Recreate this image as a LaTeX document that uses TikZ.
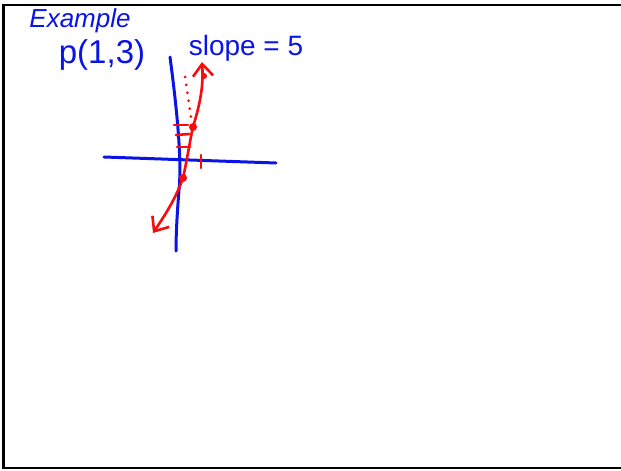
\documentclass[tikz,border=0pt]{standalone}
\usepackage{fontspec}
\setmainfont{Liberation Sans}
\usetikzlibrary{arrows.meta}
\definecolor{pen}{RGB}{10,20,230}
\definecolor{redpen}{RGB}{250,10,10}
\tikzset{
  bluepen/.style={draw=pen, line width=3pt, line cap=round, line join=round},
  redline/.style={draw=redpen, line width=2.6pt, line cap=round, line join=round},
  hand/.style={text=pen, inner sep=0pt, anchor=center},
  openhead/.style={-{Straight Barb[length=12pt,width=26pt,angle'=80]}},
  dotmark/.style={circle, fill=redpen, inner sep=0pt, minimum size=8pt},
}
\begin{document}
\begin{tikzpicture}[x=1pt,y=-1pt]
\useasboundingbox (0,0) rectangle (621,471);
\fill[white] (0,0) rectangle (621,471);
% frame
\draw[black, line width=2.6pt] (640,5) -- (3.6,5) -- (3.6,468) -- (640,468);
% texts
\node[hand, font=\itshape\fontsize{26}{26}\selectfont] (ex) at (80,21) {Example};
\node[hand, font=\fontsize{33}{33}\selectfont] (pt) at (102,55) {p(1,3)};
\node[hand, font=\fontsize{28}{28}\selectfont] (sl) at (246,48) {slope = 5};
% axes
\coordinate (ytop) at (170,57);
\coordinate (ybot) at (176,251);
\coordinate (xl) at (104,157);
\coordinate (xr) at (276,163);
\draw[bluepen] (ytop) .. controls (177,110) and (182,160) .. (179,190) .. controls (177,215) and (176,235) .. (ybot);
\draw[bluepen] (xl) -- (xr);
% tick on x axis
\coordinate (tx1) at (201,155);
\coordinate (tx2) at (201,168);
\draw[redline] (tx1) -- (tx2);
% ticks on y axis
\coordinate (t1a) at (174,125); \coordinate (t1b) at (188,125);
\coordinate (t2a) at (176,135); \coordinate (t2b) at (189,134);
\coordinate (t3a) at (177,147); \coordinate (t3b) at (190,147);
\draw[redline] (t1a) -- (t1b);
\draw[redline] (t2a) -- (t2b);
\draw[redline] (t3a) -- (t3b);
% red curve
\node[dotmark] (p0) at (183,178) {};
\node[dotmark] (p1) at (193,127) {};
\node[dotmark, minimum size=6pt] (p2) at (204,76) {};
\coordinate (ctop) at (202,62);
\coordinate (cbot) at (153,233);
\draw[redline, openhead] (p0.center) .. controls (175,200) and (165,215) .. (cbot);
\draw[redline, openhead] (p0.center) .. controls (188,155) and (190,140) .. (p1.center) .. controls (198,110) and (204,90) .. (ctop);
% dotted
\coordinate (d1) at (185,77);
\coordinate (d2) at (191,117);
\draw[redpen, line width=3pt, line cap=round, dash pattern=on 0pt off 8pt] (d1) -- (d2);
\end{tikzpicture}
\end{document}
